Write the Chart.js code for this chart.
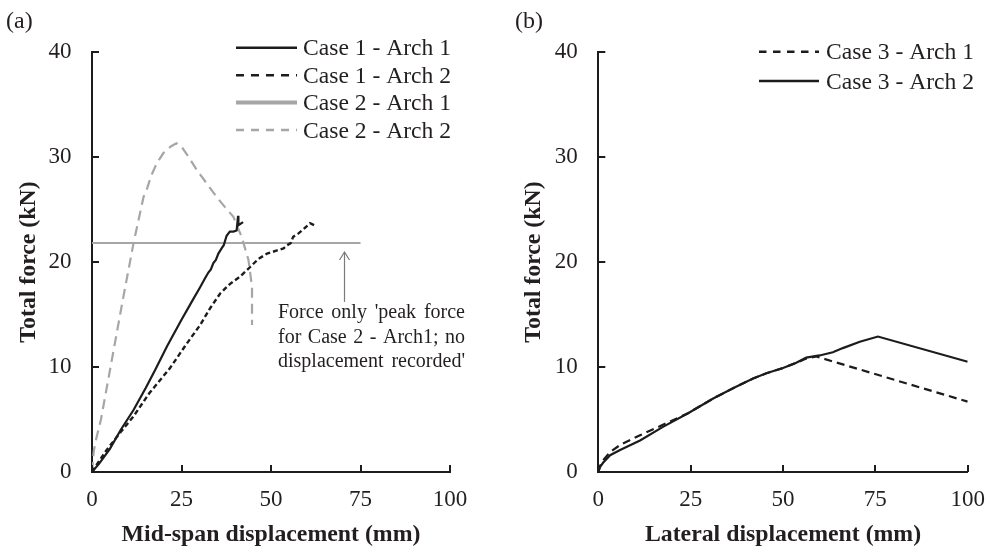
<!DOCTYPE html>
<html>
<head>
<meta charset="utf-8">
<script src="https://cdn.jsdelivr.net/npm/chart.js@4/dist/chart.umd.min.js"></script>
<style>
  html, body { margin: 0; padding: 0; background: #ffffff; }
  #wrap { position: relative; width: 990px; height: 552px; }
  .panel { position: absolute; top: 0; width: 495px; height: 552px; }
  #pa { left: 0; }
  #pb { left: 495px; }
</style>
</head>
<body>
<div id="wrap">
  <div class="panel" id="pa"><canvas id="ca"></canvas></div>
  <div class="panel" id="pb"><canvas id="cb"></canvas></div>
</div>
<script>
// ---- Panel (a): mid-span displacement (mm) vs total force (kN) ----
const case1Arch1X = [0, 2, 5, 8, 11.6, 15, 17.6, 21, 25, 28, 30.2, 31.5, 32.5, 33.2, 33.9, 34.6, 35.3, 36.2, 36.8, 37.6, 38.5, 39.5, 40.4, 40.8, 40.9, 42.2];
const case1Arch1Y = [0, 0.8, 2.2, 4.0, 5.9, 8.0, 9.7, 12.0, 14.5, 16.3, 17.6, 18.4, 19.0, 19.3, 19.9, 20.2, 20.8, 21.3, 21.6, 22.5, 22.9, 22.9, 23.0, 24.4, 23.5, 23.8];

const case1Arch2X = [0, 1.5, 4.1, 8, 11.6, 16, 21.8, 26, 30.2, 33, 35.8, 38.5, 41.3, 44.1, 46.5, 48.9, 51.7, 53.5, 54.5, 55.5, 56.2, 57.6, 59.0, 60.9, 62.8];
const case1Arch2Y = [0, 0.8, 2.1, 3.8, 5.3, 7.5, 9.9, 12.0, 14.0, 15.6, 17.0, 17.9, 18.6, 19.5, 20.3, 20.8, 21.1, 21.3, 21.6, 21.8, 22.4, 22.7, 23.1, 23.7, 23.4];

const case2Arch1X = [0, 75];
const case2Arch1Y = [21.8, 21.8];

const case2Arch2X = [0, 0.5, 1.2, 2.5, 4.0, 5.5, 7.0, 8.5, 10.0, 11.6, 13.0, 14.4, 15.3, 16.5, 18.1, 20.0, 22.0, 23.6, 25.0, 27.0, 29.2, 32.0, 34.8, 37.2, 39.5, 41.8, 43.7, 44.1, 44.7, 44.7];
const case2Arch2Y = [0, 2.0, 3.2, 5.0, 7.8, 10.6, 13.4, 16.2, 18.9, 21.8, 24.0, 26.2, 26.9, 28.2, 29.4, 30.4, 31.0, 31.3, 31.0, 30.0, 28.8, 27.5, 26.2, 25.2, 24.3, 22.4, 20.2, 19.2, 17.6, 14.0];

// ---- Panel (b): lateral displacement (mm) vs total force (kN) ----
const case3Arch1X = [0, 0.5, 1.5, 3.2, 6, 11.3, 17.5, 24.3, 31.1, 36.6, 41.9, 45.5, 50, 53.6, 56.3, 59, 100];
const case3Arch1Y = [0, 0.6, 1.2, 1.9, 2.6, 3.5, 4.5, 5.6, 7.0, 8.0, 8.9, 9.4, 9.9, 10.4, 10.8, 11.0, 6.7];

const case3Arch2X = [0, 0.5, 1.35, 3.2, 5.9, 11.3, 17.5, 24.3, 31.1, 36.6, 41.9, 45.5, 50, 53.6, 56.3, 59.9, 63.5, 66.2, 70.8, 75.7, 100];
const case3Arch2Y = [0, 0.5, 0.9, 1.6, 2.1, 3.0, 4.3, 5.6, 7.0, 8.0, 8.9, 9.4, 9.9, 10.4, 10.9, 11.1, 11.4, 11.8, 12.4, 12.9, 10.5];

// ---- Axes ----
const xTicks = [0, 25, 50, 75, 100];
const yTicks = [0, 10, 20, 30, 40];

const labelsA = ['Case 1 - Arch 1', 'Case 1 - Arch 2', 'Case 2 - Arch 1', 'Case 2 - Arch 2'];
const labelsB = ['Case 3 - Arch 1', 'Case 3 - Arch 2'];
const noteLines = ["Force only 'peak force", "for Case 2 - Arch1; no", "displacement recorded'"];
const peakArrow = { x: 70.5, from: 16.2, to: 20.95 };

const INK = '#231f20';
const BLACK = '#1c1c1c';
const GRAY = '#a6a6a6';
const SERIF = '"Liberation Serif", "Times New Roman", serif';

const toPoints = (xs, ys) => xs.map((x, i) => ({ x, y: ys[i] }));

function series(label, xs, ys, color, width, dash, legendDash, legendWidth) {
  return {
    label, data: toPoints(xs, ys),
    borderColor: color, borderWidth: width, borderDash: dash,
    legendDash, legendWidth: legendWidth || width,
    showLine: true, pointRadius: 0, pointHoverRadius: 0, tension: 0, fill: false
  };
}

// Inward tick marks along both axes
const innerTicks = {
  id: 'innerTicks',
  afterDraw(chart) {
    const { ctx, scales: { x, y } } = chart;
    ctx.save();
    ctx.strokeStyle = BLACK;
    ctx.lineWidth = 2;
    x.ticks.forEach(t => {
      const px = Math.round(x.getPixelForValue(t.value));
      ctx.beginPath(); ctx.moveTo(px, x.top); ctx.lineTo(px, x.top - 7); ctx.stroke();
    });
    y.ticks.forEach(t => {
      const py = Math.round(y.getPixelForValue(t.value));
      ctx.beginPath(); ctx.moveTo(y.right, py); ctx.lineTo(y.right + 7, py); ctx.stroke();
    });
    ctx.restore();
  }
};

// Line-sample legend drawn from each dataset's own styling
const lineLegend = {
  id: 'lineLegend',
  afterDraw(chart, args, opts) {
    const ctx = chart.ctx;
    ctx.save();
    ctx.font = opts.font;
    ctx.fillStyle = INK;
    ctx.textBaseline = 'alphabetic';
    ctx.textAlign = 'left';
    chart.data.datasets.forEach((ds, row) => {
      const y = opts.y + row * opts.rowGap;
      ctx.strokeStyle = ds.borderColor;
      ctx.lineWidth = ds.legendWidth;
      ctx.setLineDash(ds.legendDash || []);
      ctx.beginPath(); ctx.moveTo(opts.x0, y); ctx.lineTo(opts.x1, y); ctx.stroke();
      ctx.setLineDash([]);
      ctx.fillText(ds.label, opts.textX, y + opts.textDrop);
    });
    ctx.restore();
  }
};

// Panel letter
const panelTag = {
  id: 'panelTag',
  afterDraw(chart, args, opts) {
    const ctx = chart.ctx;
    ctx.save();
    ctx.font = '24px ' + SERIF;
    ctx.fillStyle = INK;
    ctx.textBaseline = 'alphabetic';
    ctx.fillText(opts.text, opts.x, opts.y);
    ctx.restore();
  }
};

// Arrow and justified note for the force-only record
const peakNote = {
  id: 'peakNote',
  afterDraw(chart, args, opts) {
    if (!opts.lines) return;
    const { ctx, scales: { x, y } } = chart;
    ctx.save();
    const ax = Math.round(x.getPixelForValue(opts.arrow.x)) + 0.5;
    const y0 = y.getPixelForValue(opts.arrow.from);
    const y1 = y.getPixelForValue(opts.arrow.to);
    ctx.strokeStyle = '#7a7a7a';
    ctx.lineWidth = 1.2;
    ctx.beginPath(); ctx.moveTo(ax, y0); ctx.lineTo(ax, y1); ctx.stroke();
    ctx.beginPath(); ctx.moveTo(ax - 5, y1 + 8); ctx.lineTo(ax, y1); ctx.lineTo(ax + 5, y1 + 8); ctx.stroke();

    ctx.font = opts.font;
    ctx.fillStyle = INK;
    ctx.textBaseline = 'alphabetic';
    ctx.textAlign = 'left';
    const width = opts.right - opts.left;
    opts.lines.forEach((line, i) => {
      const words = line.split(' ');
      const wordsW = words.reduce((s, w) => s + ctx.measureText(w).width, 0);
      const gap = words.length > 1 ? (width - wordsW) / (words.length - 1) : 0;
      let cx = opts.left;
      const by = opts.baseline + i * opts.lineGap;
      words.forEach(w => { ctx.fillText(w, cx, by); cx += ctx.measureText(w).width + gap; });
    });
    ctx.restore();
  }
};

function scalesFor(xTitle, yTitlePad) {
  return {
    x: {
      type: 'linear', min: 0, max: 100,
      afterBuildTicks: s => { s.ticks = xTicks.map(v => ({ value: v })); },
      afterFit: s => { s.height = 80; s.paddingLeft = 0; s.paddingRight = 0; s.paddingTop = 0; s.paddingBottom = 0; },
      grid: { display: false, drawTicks: false },
      border: { display: true, color: BLACK, width: 2 },
      ticks: { color: INK, font: { family: SERIF, size: 23 }, padding: 14.2, maxRotation: 0 },
      title: { display: true, text: xTitle, color: INK, font: { family: SERIF, size: 23.8, weight: 'bold' }, padding: { top: 0, bottom: 3.2 } }
    },
    y: {
      type: 'linear', min: 0, max: 40,
      afterBuildTicks: s => { s.ticks = yTicks.map(v => ({ value: v })); },
      afterFit: s => { s.width = 85; s.paddingLeft = 0; s.paddingRight = 0; s.paddingTop = 0; s.paddingBottom = 0; },
      grid: { display: false, drawTicks: false },
      border: { display: true, color: BLACK, width: 2 },
      ticks: { color: INK, font: { family: SERIF, size: 23 }, padding: 20.5 },
      title: { display: true, text: 'Total force (kN)', color: INK, font: { family: SERIF, size: 23.8, weight: 'bold' }, padding: { top: yTitlePad, bottom: 0 } }
    }
  };
}

const common = {
  responsive: true, maintainAspectRatio: false, animation: false, devicePixelRatio: 1,
  events: []
};

new Chart(document.getElementById('ca'), {
  type: 'scatter',
  data: {
    datasets: [
      series(labelsA[0], case1Arch1X, case1Arch1Y, BLACK, 2.2, [], [], 2.4),
      series(labelsA[1], case1Arch2X, case1Arch2Y, BLACK, 2.4, [5, 3], [8, 7], 2.4),
      series(labelsA[2], case2Arch1X, case2Arch1Y, GRAY, 2, [], [], 4),
      series(labelsA[3], case2Arch2X, case2Arch2Y, GRAY, 2.2, [10, 6], [8, 7], 2.4)
    ]
  },
  options: Object.assign({}, common, {
    layout: { padding: { left: 7, right: 45, top: 52, bottom: 0 } },
    scales: scalesFor('Mid-span displacement (mm)', 7.8),
    plugins: {
      legend: { display: false }, tooltip: { enabled: false },
      lineLegend: { font: '23.6px ' + SERIF, x0: 236, x1: 297, textX: 303, y: 47.8, rowGap: 27.4, textDrop: 7.5 },
      panelTag: { text: '(a)', x: 6, y: 28 },
      peakNote: { lines: noteLines, arrow: peakArrow, font: '20px ' + SERIF, left: 278, right: 465, baseline: 318, lineGap: 24.5 }
    }
  }),
  plugins: [innerTicks, lineLegend, panelTag, peakNote]
});

new Chart(document.getElementById('cb'), {
  type: 'scatter',
  data: {
    datasets: [
      series(labelsB[0], case3Arch1X, case3Arch1Y, BLACK, 2.2, [8, 5], [7.5, 6.5], 2.4),
      series(labelsB[1], case3Arch2X, case3Arch2Y, BLACK, 2.2, [], [], 2.4)
    ]
  },
  options: Object.assign({}, common, {
    layout: { padding: { left: 18.3, right: 22.3, top: 52, bottom: 0 } },
    scales: scalesFor('Lateral displacement (mm)', 6.5),
    plugins: {
      legend: { display: false }, tooltip: { enabled: false },
      lineLegend: { font: '23.6px ' + SERIF, x0: 264, x1: 324, textX: 331, y: 51.7, rowGap: 29.3, textDrop: 7.5 },
      panelTag: { text: '(b)', x: 20, y: 28 },
      peakNote: {}
    }
  }),
  plugins: [innerTicks, lineLegend, panelTag, peakNote]
});
</script>
</body>
</html>
